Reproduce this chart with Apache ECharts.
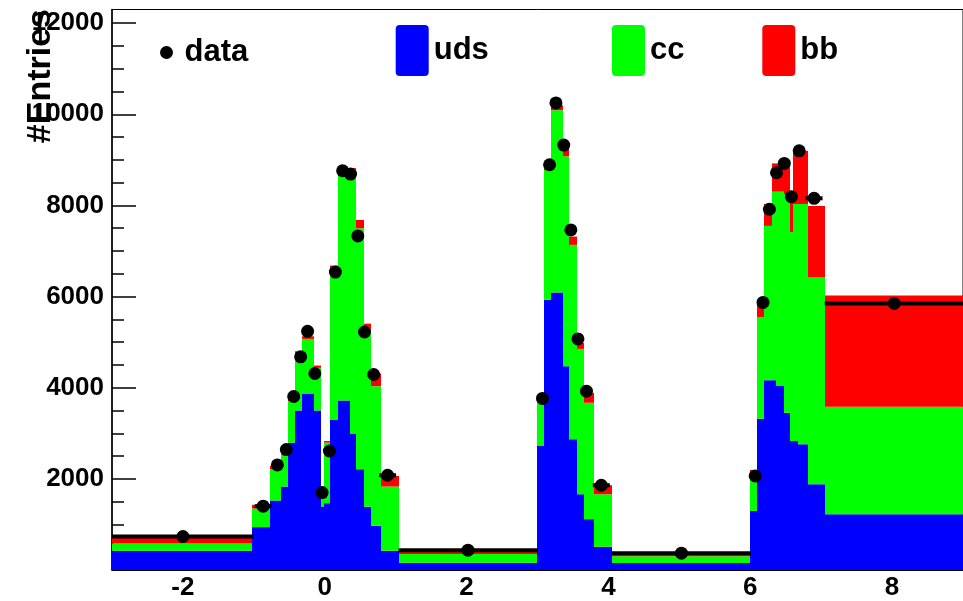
<!DOCTYPE html>
<html>
<head>
<meta charset="utf-8" />
<title>Entries</title>
<script src="https://cdn.jsdelivr.net/npm/echarts@6/dist/echarts.min.js"></script>
<style>
  html, body { margin: 0; padding: 0; background: #fff; }
  #chart { width: 963px; height: 601px; }
</style>
</head>
<body>
<div id="chart"></div>
<script>
// bin edges of the stacked MC histogram (variable width)
const binEdges = [-3.0, -1.03, -0.77, -0.62, -0.52, -0.42, -0.32, -0.15, -0.05, -0.01,
  0.08, 0.18, 0.35, 0.44, 0.55, 0.65, 0.80, 1.05, 2.99, 3.09, 3.19, 3.36, 3.45, 3.55,
  3.66, 3.80, 4.05, 5.99, 6.09, 6.20, 6.30, 6.37, 6.47, 6.56, 6.60, 6.67, 6.82, 7.06, 9.0];
// per-bin contributions
const udsVals = [420, 941, 1525, 1832, 2795, 3502, 3874, 3502, 1394, 1466, 3290, 3721, 2998,
  2211, 1386, 970, 422, 160, 2721, 5931, 6091, 4472, 2867, 1663, 1116, 510, 155, 1298, 3320,
  4165, 4165, 4049, 3451, 2830, 2830, 2758, 1882, 1226];
const ccVals = [160, 409, 686, 722, 911, 1263, 1197, 934, 232, 1329, 3330, 4929, 5622, 5289,
  3889, 3064, 1410, 190, 1059, 2846, 3999, 4607, 4268, 3189, 2554, 1153, 145, 803, 2224, 3386,
  4137, 4253, 4799, 4585, 5202, 5274, 4537, 2357];
const bbVals = [140, 80, 72, 46, 37, 35, 57, 51, 24, 35, 60, 70, 200, 182, 131, 278, 232, 70,
  20, 59, 109, 282, 182, 132, 219, 197, 50, 94, 315, 481, 621, 621, 673, 887, 1167, 1167, 1570,
  2443];

// data points: centre, half bin width, entries
const dataX = [-2.0, -0.868, -0.668, -0.542, -0.438, -0.340, -0.242, -0.140, -0.038, 0.066,
  0.150, 0.252, 0.364, 0.466, 0.560, 0.690, 0.886, 2.02, 3.07, 3.17, 3.26, 3.37, 3.47, 3.57,
  3.69, 3.90, 5.03, 6.07, 6.18, 6.27, 6.37, 6.48, 6.58, 6.69, 6.90, 8.03];
const dataXErr = [1.0, 0.12, 0.075, 0.05, 0.05, 0.05, 0.05, 0.05, 0.05, 0.05, 0.05, 0.05,
  0.05, 0.05, 0.05, 0.075, 0.12, 0.98, 0.05, 0.05, 0.05, 0.05, 0.05, 0.05, 0.07, 0.12, 0.98,
  0.05, 0.05, 0.05, 0.05, 0.05, 0.05, 0.05, 0.12, 0.98];
const dataY = [735, 1401, 2305, 2642, 3808, 4677, 5238, 4312, 1700, 2611, 6538, 8762, 8689,
  7332, 5223, 4290, 2079, 435, 3765, 8893, 10250, 9324, 7463, 5071, 3925, 1860, 370, 2064,
  5872, 7917, 8717, 8923, 8193, 9199, 8157, 5850];

// axis ticks / labels
const xLabels = [-2, 0, 2, 4, 6, 8];
const yLabels = [2000, 4000, 6000, 8000, 10000, 12000];
const yMajorTicks = [0, 2000, 4000, 6000, 8000, 10000, 12000];
const yMinorTicks = [500, 1000, 1500, 2500, 3000, 3500, 4500, 5000, 5500, 6500, 7000, 7500,
  8500, 9000, 9500, 10500, 11000, 11500];

const FONT = '"Liberation Sans", Arial, Helvetica, sans-serif';

// build stacked [lo, hi, base, top] rows for one component
function stackRows(level) {
  const rows = [];
  for (let i = 0; i < udsVals.length; i++) {
    const parts = [udsVals[i], ccVals[i], bbVals[i]];
    let base = 0;
    for (let k = 0; k < level; k++) base += parts[k];
    rows.push([binEdges[i], binEdges[i + 1], base, base + parts[level]]);
  }
  return rows;
}

function renderBin(params, api) {
  const p0 = api.coord([api.value(0), api.value(2)]);
  const p1 = api.coord([api.value(1), api.value(3)]);
  // snap x to whole pixels so neighbouring bins do not leave seams
  const x0 = Math.round(p0[0]);
  const x1 = Math.round(p1[0]);
  return {
    type: "rect",
    shape: { x: x0, y: p1[1], width: x1 - x0, height: p0[1] - p1[1] },
    style: { fill: api.visual("color") },
  };
}

function renderErr(params, api) {
  const a = api.coord([api.value(0) - api.value(2), api.value(1)]);
  const b = api.coord([api.value(0) + api.value(2), api.value(1)]);
  return {
    type: "line",
    shape: { x1: a[0], y1: a[1], x2: b[0], y2: b[1] },
    style: { stroke: "#000", lineWidth: 4 },
  };
}

const errRows = dataX.map((x, i) => [x, dataY[i], dataXErr[i]]);
const pointRows = dataX.map((x, i) => [x, dataY[i]]);

const boxIcon = "path://M4,0 H29 Q33,0 33,4 V47 Q33,51 29,51 H4 Q0,51 0,47 V4 Q0,0 4,0 Z";
const legendText = { color: "#000", fontSize: 31, fontWeight: "bold", fontFamily: FONT };

const chart = echarts.init(document.getElementById("chart"));
chart.setOption({
  animation: false,
  backgroundColor: "#fff",
  grid: {
    left: 112, top: 9.5, right: -6.4, bottom: 30,
    show: true, borderColor: "#000", borderWidth: 1, backgroundColor: "transparent",
  },
  legend: [
    {
      data: [{ name: "data", icon: "circle" }], padding: 0,
      left: 160, top: 37, itemWidth: 26, itemHeight: 13, textStyle: legendText,
    },
    {
      data: [{ name: "uds", icon: boxIcon }], padding: 0,
      left: 395.7, top: 25, itemWidth: 33, itemHeight: 51, textStyle: legendText,
    },
    {
      data: [{ name: "cc", icon: boxIcon }], padding: 0,
      left: 612, top: 25, itemWidth: 33, itemHeight: 51, textStyle: legendText,
    },
    {
      data: [{ name: "bb", icon: boxIcon }], padding: 0,
      left: 762.3, top: 25, itemWidth: 33, itemHeight: 51, textStyle: legendText,
    },
  ],
  xAxis: {
    type: "value",
    min: -3,
    max: 9,
    splitLine: { show: false },
    axisLine: { show: true, onZero: false, lineStyle: { color: "#000", width: 1 } },
    axisTick: { show: false },
    axisLabel: {
      customValues: xLabels,
      formatter: (v) => String(v),
      color: "#000", fontSize: 26, fontWeight: "bold", fontFamily: FONT, margin: 5,
    },
  },
  yAxis: [
    {
      type: "value",
      min: 0,
      max: 12300,
      position: "left",
      splitLine: { show: false },
      axisLine: { show: true, onZero: false, lineStyle: { color: "#000", width: 1.5 } },
      axisTick: {
        show: true, inside: true, length: 24, customValues: yMajorTicks,
        lineStyle: { color: "#000", width: 1.5 },
      },
      axisLabel: {
        customValues: yLabels,
        formatter: (v) => String(v),
        color: "#000", fontSize: 26, fontWeight: "bold", fontFamily: FONT, margin: 8,
      },
    },
    {
      // minor ticks only
      type: "value",
      min: 0,
      max: 12300,
      position: "left",
      splitLine: { show: false },
      axisLine: { show: false, onZero: false },
      axisLabel: { show: false },
      axisTick: {
        show: true, inside: true, length: 12, customValues: yMinorTicks,
        lineStyle: { color: "#000", width: 1.5 },
      },
    },
  ],
  graphic: [
    {
      type: "text",
      x: 41,
      y: 9,
      rotation: Math.PI / 2,
      z: 100,
      style: {
        text: "#Entries",
        fill: "#000",
        font: "bold 34px " + FONT,
        align: "right",
        verticalAlign: "middle",
      },
    },
  ],
  series: [
    {
      name: "uds", type: "custom", renderItem: renderBin, data: stackRows(0),
      encode: { x: [0, 1], y: [2, 3] }, itemStyle: { color: "#0000ff" }, z: 2,
    },
    {
      name: "cc", type: "custom", renderItem: renderBin, data: stackRows(1),
      encode: { x: [0, 1], y: [2, 3] }, itemStyle: { color: "#00ff00" }, z: 2,
    },
    {
      name: "bb", type: "custom", renderItem: renderBin, data: stackRows(2),
      encode: { x: [0, 1], y: [2, 3] }, itemStyle: { color: "#ff0000" }, z: 2,
    },
    {
      name: "dataErr", type: "custom", renderItem: renderErr, data: errRows,
      encode: { x: 0, y: 1 }, z: 3,
    },
    {
      name: "data", type: "scatter", data: pointRows, symbol: "circle", symbolSize: 13,
      itemStyle: { color: "#000", opacity: 1 }, z: 4,
    },
  ],
});
</script>
</body>
</html>
